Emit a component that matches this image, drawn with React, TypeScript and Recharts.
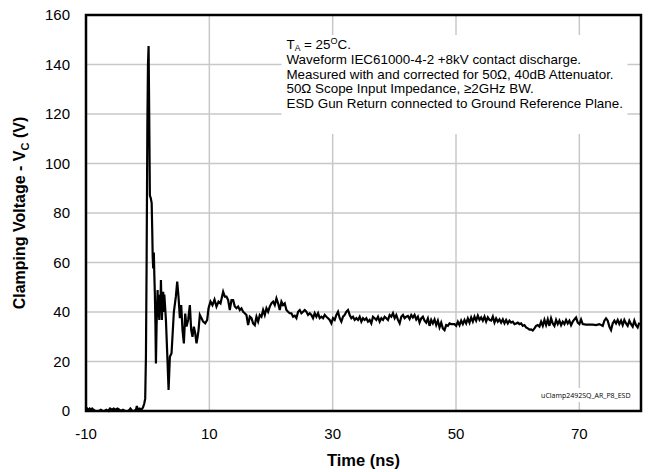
import { LineChart, Line, XAxis, YAxis, CartesianGrid, ReferenceArea } from "recharts";

const FONT = "'Liberation Sans', Arial, Helvetica, sans-serif";

// scope capture, [time ns, clamping voltage V]
const preTrigger: [number, number][] = [
  [-10, 0.5], [-9.8, 1], [-9.6, 0.5], [-9.4, 1], [-9.2, 0.5], [-9.0, 1], [-8.8, 0.5], [-8.5, 0],
  [-8.2, 0], [-7.9, 0], [-7.6, 0.5], [-7.3, 0], [-7.0, 0], [-6.7, 0.5], [-6.4, 0], [-6.1, 1],
  [-5.8, 0.5], [-5.5, 1], [-5.2, 0.5], [-4.9, 1], [-4.6, 0.5], [-4.3, 0], [-4.0, 0.5], [-3.7, 0],
  [-3.4, 0], [-3.1, 0], [-2.8, 1], [-2.5, 0], [-2.2, 0], [-1.9, 0.5], [-1.75, 2], [-1.6, 0.5],
  [-1.3, 1], [-1.0, 0.5], [-0.75, 1.5],
];

const burst: [number, number][] = [
  [-0.55, 3], [-0.4, 5], [-0.28, 22], [-0.17, 60], [-0.05, 115], [0.05, 140], [0.15, 147.5],
  [0.25, 120], [0.36, 87], [0.5, 86], [0.65, 84], [0.74, 73], [0.82, 62], [0.9, 57.6], [1.0, 64],
  [1.08, 55], [1.17, 47], [1.26, 35], [1.34, 19.2], [1.45, 35], [1.61, 48.9], [1.7, 38], [1.8, 47],
  [1.88, 36.8], [1.97, 46], [2.07, 40], [2.15, 52.9], [2.23, 44], [2.31, 36.8], [2.42, 47],
  [2.52, 48.2], [2.6, 40], [2.7, 47], [2.79, 43.5], [2.88, 40], [2.96, 36.8], [3.17, 23.3],
  [3.39, 8.5], [3.6, 21.9], [3.87, 23.3], [4.25, 40.1], [4.57, 46.2], [4.79, 52.3], [5.0, 46.2],
  [5.22, 37.5], [5.44, 42.8], [5.65, 32.7], [5.87, 27.3], [6.09, 39.4], [6.3, 34.1], [6.57, 36.8],
  [6.84, 42.8], [7.06, 32.7], [7.27, 30.0], [7.49, 34.1], [7.71, 31.4], [7.92, 27.3], [8.1, 30],
  [8.25, 32.7], [8.46, 38.8], [8.73, 37.5], [9.0, 36.1], [9.33, 35.4], [9.65, 36.8], [9.87, 41.5],
  [10.19, 44.2], [10.51, 42.8], [10.84, 45.0], [11.16, 42.2], [11.49, 44.2], [11.81, 43.5], [12.24, 48.2],
];

const settle: [number, number][] = [
  [12.51, 46.2], [12.78, 46.2], [13.05, 44.8], [13.32, 40.8], [13.59, 44.8], [13.86, 44.8], [14.13, 42.2],
  [14.4, 41.5], [14.67, 42.2], [14.94, 40.8], [15.21, 41.5], [15.48, 40.1], [15.75, 39.5], [16.02, 38.8],
  [16.29, 34.7], [16.56, 38.1], [16.83, 37.5], [17.1, 35.4], [17.37, 34.7], [17.64, 38.1], [17.91, 36.1],
  [18.18, 38.8], [18.45, 38.1], [18.72, 40.8], [18.99, 38.8], [19.26, 41.5], [19.53, 40.1], [19.8, 42.2],
  [20.07, 43.5], [20.34, 44.2], [20.61, 42.8], [20.88, 45.5], [21.15, 43.5], [21.42, 40.8], [21.69, 44.2],
  [21.96, 42.8], [22.23, 43.5], [22.5, 40.8], [22.77, 40.1], [23.04, 39.5], [23.31, 39.5], [23.58, 38.1],
  [23.85, 38.5], [24.12, 37.5], [24.39, 40.1], [24.66, 40.8], [24.93, 39.5], [25.2, 40.1], [25.47, 40.8],
  [25.74, 40.1], [26.01, 38.8], [26.28, 39.5], [26.55, 38.8], [26.82, 37.5], [27.09, 39.5], [27.36, 38.1],
  [27.63, 39.5], [27.9, 37.5], [28.17, 38.1], [28.44, 37.5], [28.71, 38.8], [28.98, 38.1], [29.25, 37.5],
  [29.52, 36.8], [29.79, 35.4], [30.06, 37.5], [30.33, 36.8], [30.6, 38.8], [30.87, 40.1], [31.14, 37.5],
  [31.41, 36.1], [31.68, 38.1], [31.95, 38.8], [32.22, 40.1], [32.49, 40.8], [32.76, 38.8], [33.03, 37.5],
  [33.3, 38.1], [33.57, 36.8], [33.84, 37.5], [34.11, 36.8], [34.38, 38.1], [34.65, 36.1], [34.92, 37.5],
  [35.19, 36.8], [35.46, 37.5], [35.73, 36.1], [36.0, 36.8], [36.27, 35.4], [36.54, 38.1], [36.81, 37.5],
  [37.08, 36.8], [37.35, 38.1], [37.62, 36.1], [37.89, 37.5], [38.16, 36.8], [38.43, 38.1], [38.7, 37.5],
  [38.97, 36.8], [39.24, 38.8], [39.51, 38.1], [39.78, 39.5], [40.05, 37.5], [40.32, 38.8], [40.59, 36.8],
  [40.86, 35.4], [41.13, 38.1], [41.4, 38.8], [41.67, 37.5], [41.94, 38.1],
];

const tail: [number, number][] = [
  [42.2, 38.4], [42.47, 37.2], [42.74, 38.8], [43.01, 37.8], [43.28, 38.8], [43.55, 37.0], [43.82, 38.1],
  [44.09, 35.7], [44.36, 37.4], [44.63, 38.1], [44.9, 36.5], [45.17, 35.7], [45.44, 37.4], [45.71, 34.4],
  [45.98, 36.8], [46.25, 35.4], [46.52, 37.0], [46.79, 34.7], [47.06, 36.5], [47.33, 33.8], [47.6, 35.7],
  [47.87, 33.4], [48.14, 32.7], [48.41, 34.7], [48.68, 34.4], [48.95, 35.4], [49.22, 35.1], [49.49, 35.1],
  [49.76, 35.1], [50.03, 34.4], [50.3, 36.1], [50.57, 34.7], [50.84, 36.5], [51.11, 35.1], [51.38, 36.8],
  [51.65, 35.4], [51.92, 37.4], [52.19, 35.7], [52.46, 37.8], [52.73, 36.1], [53.0, 38.1], [53.27, 36.5],
  [53.54, 38.5], [53.81, 36.8], [54.08, 37.8], [54.35, 36.5], [54.62, 38.1], [54.89, 36.1], [55.16, 37.8],
  [55.43, 36.8], [55.7, 36.5], [55.97, 38.1], [56.24, 35.7], [56.51, 37.4], [56.78, 36.1], [57.05, 37.0],
  [57.32, 35.7], [57.59, 37.0], [57.86, 35.4], [58.13, 36.8], [58.4, 35.4], [58.67, 36.5], [58.94, 35.7],
  [59.21, 36.1], [59.48, 35.1], [59.75, 35.4], [60.02, 35.7], [60.29, 35.1], [60.56, 35.4], [60.83, 34.4],
  [61.1, 34.7], [61.37, 33.8], [61.64, 33.4], [61.91, 32.9], [62.18, 33.0], [62.45, 32.5], [62.72, 33.4],
  [62.99, 34.4], [63.26, 34.7], [63.53, 34.1], [63.8, 36.1], [64.07, 34.4], [64.34, 36.8], [64.61, 34.7],
  [64.88, 37.0], [65.15, 34.4], [65.42, 37.4], [65.69, 35.4], [65.96, 34.4], [66.23, 36.8], [66.5, 35.1],
  [66.77, 36.5], [67.04, 34.7], [67.31, 36.1], [67.58, 35.1], [67.85, 36.8], [68.12, 35.4], [68.39, 36.5],
  [68.66, 34.7], [68.93, 36.1], [69.2, 37.0], [69.47, 37.8], [69.74, 35.7], [70.01, 35.1], [70.28, 37.0],
  [70.55, 35.1], [71.09, 34.9], [72.17, 34.9], [72.71, 34.7], [73.25, 35.1], [73.79, 34.4], [74.06, 36.5],
  [74.33, 37.4], [74.6, 36.5], [74.87, 34.1], [75.14, 32.7], [75.41, 35.4], [75.68, 36.5], [75.95, 35.4],
  [76.22, 36.8], [76.49, 35.1], [76.76, 36.5], [77.03, 34.7], [77.3, 36.8], [77.57, 35.4], [77.84, 34.4],
  [78.11, 36.5], [78.38, 35.1], [78.65, 34.1], [78.92, 36.5], [79.19, 34.7], [79.46, 33.8], [79.73, 35.7],
];

const xTicks = [-10, 10, 30, 50, 70];
const yTicks = [0, 20, 40, 60, 80, 100, 120, 140, 160];

const noteLines = [
  "Waveform IEC61000-4-2 +8kV contact discharge.",
  "Measured with and corrected for 50Ω, 40dB Attenuator.",
  "50Ω Scope Input Impedance, ≥2GHz BW.",
  "ESD Gun Return connected to Ground Reference Plane.",
];
const figureId = "uClamp2492SQ_AR_P8_ESD";

const data = [...preTrigger, ...burst, ...settle, ...tail].map(([t, v]) => ({ t, v }));

const renderNote = (props: any) => {
  const { x, y } = props.viewBox;
  const left = x + 5;
  return (
    <g fontFamily={FONT} fontSize={13.4} fill="#000">
      <text x={left} y={y + 13.5}>
        T<tspan fontSize={8.5} dy={2}>A</tspan>
        <tspan dy={-2}> = 25</tspan>
        <tspan fontSize={9} dy={-5}>O</tspan>
        <tspan dy={5}>C.</tspan>
      </text>
      {noteLines.map((line, i) => (
        <text key={i} x={left} y={y + 15 + (i + 1) * 14.4}>
          {line}
        </text>
      ))}
    </g>
  );
};

const renderYLabel = (props: any) => {
  const vb = props.viewBox;
  const cx = vb.x + 25;
  const cy = vb.y + vb.height / 2;
  return (
    <text
      transform={`rotate(-90 ${cx} ${cy})`}
      x={cx}
      y={cy}
      textAnchor="middle"
      fontFamily={FONT}
      fontSize={16}
      fontWeight="bold"
      fill="#000"
    >
      Clamping Voltage - V<tspan fontSize={11} dy={4}>C</tspan>
      <tspan dy={-4}> (V)</tspan>
    </text>
  );
};

const renderXLabel = (props: any) => {
  const vb = props.viewBox;
  return (
    <text
      x={vb.x + vb.width / 2}
      y={vb.y + 55}
      textAnchor="middle"
      fontFamily={FONT}
      fontSize={16.5}
      fontWeight="bold"
      fill="#000"
    >
      Time (ns)
    </text>
  );
};

const tickStyle = { fill: "#000", fontSize: 15, fontFamily: FONT };

export default function App() {
  return (
    <div>
      <style>{"html,body{margin:0;overflow:hidden;background:#fff}"}</style>
      <LineChart width={648} height={472} data={data} margin={{ top: 15, right: 7, bottom: 0, left: 0 }}>
        <CartesianGrid stroke="#c8c8c8" strokeWidth={1.5} />
        <XAxis
          type="number"
          dataKey="t"
          domain={[-10, 80]}
          ticks={xTicks}
          interval={0}
          allowDataOverflow
          axisLine={false}
          tickLine={false}
          tickSize={0}
          tickMargin={17}
          height={61}
          tick={tickStyle}
          label={renderXLabel}
        />
        <YAxis
          type="number"
          domain={[0, 160]}
          ticks={yTicks}
          interval={0}
          axisLine={false}
          tickLine={false}
          tickSize={0}
          tickMargin={16}
          width={86}
          tick={tickStyle}
          label={renderYLabel}
        />
        <ReferenceArea x1={21.7} x2={77.8} y1={111.9} y2={151.9} fill="#fff" fillOpacity={1} stroke="none" label={renderNote} />
        <ReferenceArea
          x1={63.7}
          x2={78.4}
          y1={3.6}
          y2={9.3}
          fill="#fff"
          fillOpacity={1}
          stroke="none"
          label={{ value: figureId, position: "center", fontSize: 7, fill: "#000", fontFamily: "'Open Sans', sans-serif" }}
        />
        <Line type="linear" dataKey="v" stroke="#000" strokeWidth={2.2} dot={false} activeDot={false} isAnimationActive={false} />
        <ReferenceArea x1={-10} x2={80} y1={0} y2={160} fill="none" stroke="#000" strokeWidth={2.5} />
      </LineChart>
    </div>
  );
}
